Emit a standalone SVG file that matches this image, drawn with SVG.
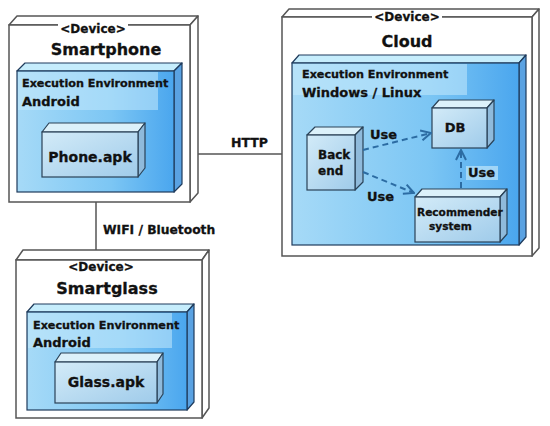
<svg xmlns="http://www.w3.org/2000/svg" width="550" height="426" viewBox="0 0 550 426">
<defs>
<linearGradient id="envGrad" x1="0" y1="0" x2="1" y2="0">
<stop offset="0" stop-color="#a6daf7"/>
<stop offset="0.6" stop-color="#7cc6f4"/>
<stop offset="1" stop-color="#4aa6ee"/>
</linearGradient>
<linearGradient id="artGrad" x1="0" y1="0" x2="1" y2="1">
<stop offset="0" stop-color="#d3ebf8"/>
<stop offset="1" stop-color="#9fcbea"/>
</linearGradient>
<marker id="open" viewBox="0 0 12 12" refX="11" refY="6" markerWidth="12" markerHeight="12" markerUnits="userSpaceOnUse" orient="auto">
<path d="M1,1 L11,6 L1,11" fill="none" stroke="#2c6ca3" stroke-width="2"/>
</marker>
</defs>
<style>
text { font-family: "DejaVu Sans", Verdana, sans-serif; font-weight: bold; fill: #111; stroke: #111; stroke-width: 0.3; }
.dev-front { fill: #ffffff; stroke: #555; stroke-width: 1.5; }
.dev-side { fill: #ffffff; stroke: #555; stroke-width: 1.5; stroke-linejoin: round; }
.env-front { fill: url(#envGrad); stroke: #1f3b5c; stroke-width: 1.2; }
.env-top { fill: #c6edfc; stroke: #1f3b5c; stroke-width: 1.2; stroke-linejoin: round; }
.env-right { fill: #5aa2e2; stroke: #1f3b5c; stroke-width: 1.2; stroke-linejoin: round; }
.env-hl { fill: #c4eafb; opacity: 0.55; }
.art-front { fill: url(#artGrad); stroke: #2a4257; stroke-width: 1.2; }
.art-top { fill: #dcf1fa; stroke: #2a4257; stroke-width: 1.2; stroke-linejoin: round; }
.art-right { fill: #8fbadb; stroke: #2a4257; stroke-width: 1.2; stroke-linejoin: round; }
.lbl-bg { fill: #ffffff; }
.link { stroke: #555; stroke-width: 1.5; fill: none; }
.dep { stroke: #2c6ca3; stroke-width: 2; stroke-dasharray: 6 4; fill: none; marker-end: url(#open); }
.devlbl { font-size: 12px; }
.devname { font-size: 16px; }
.envlbl { font-size: 11.2px; }
.envname { font-size: 13px; }
.art { font-size: 14px; }
.use { font-size: 13px; }
</style>

<g id="connectors">
<line class="link" x1="190" y1="154" x2="282" y2="154"/>
<text x="231" y="147" font-size="12.5">HTTP</text>
<line class="link" x1="96" y1="202" x2="96" y2="250"/>
<text x="103" y="234" font-size="12.3">WIFI / Bluetooth</text>
</g>

<g id="smartphone">
<polygon class="dev-side" points="9,25 17,16 198,16 190,25"/>
<polygon class="dev-side" points="190,25 198,16 198,193 190,202"/>
<rect class="dev-front" x="9" y="25" width="181" height="177"/>
<rect class="lbl-bg" x="58" y="21" width="70" height="14"/>
<text class="devlbl" x="93" y="33" text-anchor="middle">&lt;Device&gt;</text>
<text class="devname" x="106" y="55" text-anchor="middle">Smartphone</text>
<g id="smartphone-env">
<polygon class="env-top" points="17,71 25,63 182,63 174,71"/>
<polygon class="env-right" points="174,71 182,63 182,184 174,192"/>
<rect class="env-front" x="17" y="71" width="157" height="121"/>
<rect class="env-hl" x="18" y="72" width="140" height="38"/>
<text class="envlbl" x="22" y="87">Execution Environment</text>
<text class="envname" x="22" y="106">Android</text>
</g>
<g id="phone-apk">
<polygon class="art-top" points="42,132 49,123 145,123 138,132"/>
<polygon class="art-right" points="138,132 145,123 145,168 138,177"/>
<rect class="art-front" x="42" y="132" width="96" height="45"/>
<text class="art" x="90" y="162" text-anchor="middle">Phone.apk</text>
</g>
</g>

<g id="smartglass">
<polygon class="dev-side" points="16,260 23,250 209,250 202,260"/>
<polygon class="dev-side" points="202,260 209,250 209,408 202,418"/>
<rect class="dev-front" x="16" y="260" width="186" height="158"/>
<rect class="lbl-bg" x="66" y="261" width="70" height="13"/>
<text class="devlbl" x="101" y="271" text-anchor="middle">&lt;Device&gt;</text>
<text class="devname" x="107" y="294" text-anchor="middle">Smartglass</text>
<g id="smartglass-env">
<polygon class="env-top" points="27,312 34,304 194,304 187,312"/>
<polygon class="env-right" points="187,312 194,304 194,402 187,410"/>
<rect class="env-front" x="27" y="312" width="160" height="98"/>
<rect class="env-hl" x="28" y="313" width="144" height="35"/>
<text class="envlbl" x="33" y="329">Execution Environment</text>
<text class="envname" x="33" y="347">Android</text>
</g>
<g id="glass-apk">
<polygon class="art-top" points="55,362 61,353 163,353 157,362"/>
<polygon class="art-right" points="157,362 163,353 163,394 157,403"/>
<rect class="art-front" x="55" y="362" width="102" height="41"/>
<text class="art" x="106" y="387" text-anchor="middle">Glass.apk</text>
</g>
</g>

<g id="cloud">
<polygon class="dev-side" points="282,17 289,9 539,9 532,17"/>
<polygon class="dev-side" points="532,17 539,9 539,248 532,256"/>
<rect class="dev-front" x="282" y="17" width="250" height="239"/>
<rect class="lbl-bg" x="372" y="10" width="70" height="14"/>
<text class="devlbl" x="407" y="21" text-anchor="middle">&lt;Device&gt;</text>
<text class="devname" x="407" y="47" text-anchor="middle">Cloud</text>
<g id="cloud-env">
<polygon class="env-top" points="292,63 299,55 526,55 519,63"/>
<polygon class="env-right" points="519,63 526,55 526,237 519,245"/>
<rect class="env-front" x="292" y="63" width="227" height="182"/>
<rect class="env-hl" x="293" y="64" width="174" height="31"/>
<text class="envlbl" x="302" y="78">Execution Environment</text>
<text class="envname" x="302" y="97" font-size="13.4">Windows / Linux</text>
</g>
<g id="db">
<polygon class="art-top" points="432,108 439,100 494,100 487,108"/>
<polygon class="art-right" points="487,108 494,100 494,140 487,148"/>
<rect class="art-front" x="432" y="108" width="55" height="40"/>
<text x="455" y="132" font-size="13" text-anchor="middle">DB</text>
</g>
<g id="backend">
<polygon class="art-top" points="307,135 315,127 363,127 355,135"/>
<polygon class="art-right" points="355,135 363,127 363,182 355,190"/>
<rect class="art-front" x="307" y="135" width="48" height="55"/>
<text x="318" y="159" font-size="12">Back</text>
<text x="318" y="175" font-size="12">end</text>
</g>
<g id="recommender">
<polygon class="art-top" points="415,197 422,189 507,189 500,197"/>
<polygon class="art-right" points="500,197 507,189 507,234 500,242"/>
<rect class="art-front" x="415" y="197" width="85" height="45"/>
<text x="417" y="216" font-size="10.6">Recommender</text>
<text x="429" y="230" font-size="10.6">system</text>
</g>
<g id="dependencies">
<line class="dep" x1="363" y1="150" x2="431" y2="133"/>
<line class="dep" x1="363" y1="172" x2="414" y2="193"/>
<line class="dep" x1="461" y1="188" x2="461" y2="150"/>
<text class="use" x="370" y="139">Use</text>
<text class="use" x="367" y="201">Use</text>
<rect x="466" y="166" width="32" height="14" fill="#bfe6fa" opacity="0.7"/>
<text class="use" x="468" y="177">Use</text>
</g>
</g>
</svg>
